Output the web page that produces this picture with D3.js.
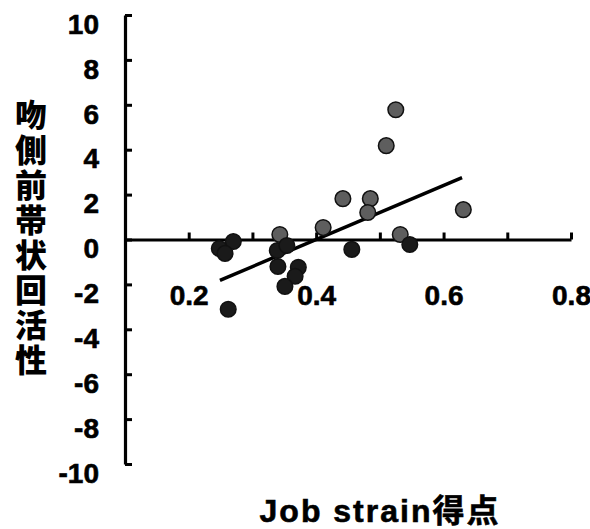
<!DOCTYPE html>
<html>
<head>
<meta charset="utf-8">
<script src="https://cdn.jsdelivr.net/npm/d3@7"></script>
<style>
  body { margin: 0; background: #fff; }
  svg { display: block; }
</style>
</head>
<body>
<div id="chart"></div>
<script>
// data
var jobStrain = [0.525, 0.510, 0.442, 0.485, 0.481, 0.411, 0.343, 0.532, 0.631, 0.547,
                 0.456, 0.270, 0.248, 0.257, 0.339, 0.354, 0.340, 0.372, 0.367, 0.351, 0.262];
var activity  = [5.78, 4.18, 1.82, 1.82, 1.20, 0.53, 0.22, 0.22, 1.33, -0.22,
                 -0.44, -0.09, -0.40, -0.62, -0.49, -0.27, -1.20, -1.24, -1.64, -2.09, -3.11];
var group     = ['g', 'g', 'g', 'g', 'g', 'g', 'g', 'g', 'g', 'd',
                 'd', 'd', 'd', 'd', 'd', 'd', 'd', 'd', 'd', 'd', 'd'];
var fitX = [0.249, 0.629];
var fitY = [-1.82, 2.76];
var xTicks = [0.2, 0.3, 0.4, 0.5, 0.6, 0.7, 0.8];
var xLabels = [0.2, 0.4, 0.6, 0.8];
var yTicks = [-10, -8, -6, -4, -2, 0, 2, 4, 6, 8, 10];
var yTitle = '吻側前帯状回活性';
var xTitle = 'Job strain得点';

var width = 590, height = 529;

var svg = d3.select('#chart').append('svg')
    .attr('width', width)
    .attr('height', height);

var x = d3.scaleLinear().domain([0.1, 0.8]).range([125, 571]);
var y = d3.scaleLinear().domain([-10, 10]).range([464, 15]);

var labelFont = "'Liberation Sans Narrow', 'Liberation Sans', Arial, sans-serif";

// y axis: ticks point inward, labels on the left
var yAxis = svg.append('g')
    .attr('transform', 'translate(' + x(0.1) + ',0)')
    .call(d3.axisLeft(y)
        .tickValues(yTicks)
        .tickSizeInner(-7)
        .tickSizeOuter(0)
        .tickPadding(26)
        .tickFormat(function (d) { return d < 0 ? '-' + Math.abs(d) : d; }));

// x axis crosses at y = 0, ticks point up
var xAxis = svg.append('g')
    .attr('transform', 'translate(0,' + y(0) + ')')
    .call(d3.axisBottom(x)
        .tickValues(xTicks)
        .tickSizeInner(-7)
        .tickSizeOuter(0)
        .tickPadding(46)
        .tickFormat(function (d) {
            return xLabels.some(function (v) { return Math.abs(v - d) < 1e-9; }) ? d.toFixed(1) : '';
        }));

[xAxis, yAxis].forEach(function (g) {
    g.selectAll('.domain').attr('stroke', '#000').attr('stroke-width', 3.2);
    g.selectAll('.tick line').attr('stroke', '#000').attr('stroke-width', 3);
    g.selectAll('text')
        .attr('fill', '#000')
        .attr('stroke', '#000')
        .attr('stroke-width', 0.6)
        .style('font-family', labelFont)
        .style('font-weight', 'bold')
        .style('font-size', '28px');
});
yAxis.selectAll('text').attr('dy', '0.65em');

// regression line
svg.append('line')
    .attr('x1', x(fitX[0])).attr('y1', y(fitY[0]))
    .attr('x2', x(fitX[1])).attr('y2', y(fitY[1]))
    .attr('stroke', '#000')
    .attr('stroke-width', 3.5);

// points
svg.append('g').selectAll('circle')
    .data(jobStrain.map(function (v, i) { return { x: v, y: activity[i], g: group[i] }; }))
    .enter()
    .append('circle')
    .attr('cx', function (d) { return x(d.x); })
    .attr('cy', function (d) { return y(d.y); })
    .attr('r', 7.8)
    .attr('fill', function (d) { return d.g === 'g' ? '#5e5e5e' : '#1a1a1a'; })
    .attr('stroke', '#111')
    .attr('stroke-width', 1.5);

// y title, one vertical text
svg.append('text')
    .attr('x', 31)
    .attr('y', 99)
    .style('writing-mode', 'vertical-rl')
    .style('text-orientation', 'upright')
    .style('font-family', "'Noto Sans CJK JP', sans-serif")
    .style('font-weight', '900')
    .style('font-size', '32px')
    .style('letter-spacing', '3px')
    .text(yTitle);

// x title
svg.append('text')
    .attr('x', 380)
    .attr('y', 522)
    .attr('text-anchor', 'middle')
    .attr('stroke', '#000')
    .attr('stroke-width', 0.6)
    .style('font-family', "'Liberation Sans', Arial, 'Noto Sans CJK JP', sans-serif")
    .style('font-weight', 'bold')
    .style('font-size', '32px')
    .style('letter-spacing', '2px')
    .text(xTitle);
</script>
</body>
</html>
